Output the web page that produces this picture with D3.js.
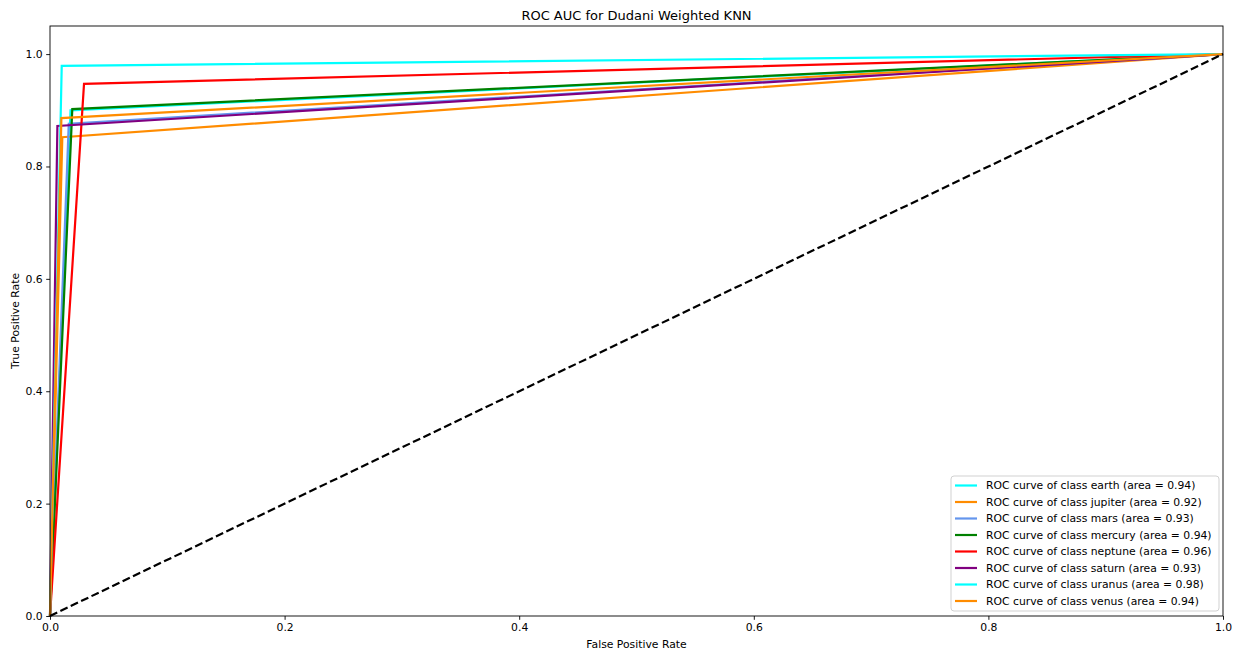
<!DOCTYPE html>
<html>
<head>
<meta charset="utf-8">
<script src="https://cdn.jsdelivr.net/npm/d3@7"></script>
<style>
  html, body { margin: 0; padding: 0; background: #fff; }
  svg { display: block; font-family: "DejaVu Sans", sans-serif; }
</style>
</head>
<body>
<svg id="chart" width="1239" height="653"></svg>
<script>
// ROC curves, one per class: (0,0) -> (fpr, tpr) operating point -> (1,1)
const classNames = ["earth", "jupiter", "mars", "mercury", "neptune", "saturn", "uranus", "venus"];
const fprPoint   = [0.0175, 0.0105, 0.016, 0.019, 0.029, 0.0063, 0.010, 0.0097];
const tprPoint   = [0.900, 0.852, 0.876, 0.902, 0.947, 0.872, 0.979, 0.886];
const aucValues  = [0.94, 0.92, 0.93, 0.94, 0.96, 0.93, 0.98, 0.94];
const lineColors = ["#00ffff", "#ff8c00", "#6495ed", "#008000", "#ff0000", "#800080", "#00ffff", "#ff8c00"];
const xTicks = [0.0, 0.2, 0.4, 0.6, 0.8, 1.0];
const yTicks = [0.0, 0.2, 0.4, 0.6, 0.8, 1.0];

const svg = d3.select("#chart");
const plotLeft = 50, plotRight = 1223, plotTop = 26, plotBottom = 616;

const x = d3.scaleLinear().domain([0, 1]).range([plotLeft, plotRight]);
const y = d3.scaleLinear().domain([0, 1.05]).range([plotBottom, plotTop]);

const fs = 10.8;

// curves
const line = d3.line().x(d => x(d[0])).y(d => y(d[1]));
const g = svg.append("g");
classNames.forEach((c, i) => {
  const pts = [[0, 0], [fprPoint[i], tprPoint[i]], [1, 1]];
  g.append("path")
    .attr("d", line(pts))
    .attr("fill", "none")
    .attr("stroke", lineColors[i])
    .attr("stroke-width", 2.2)
    .attr("stroke-linejoin", "miter");
});

// chance diagonal
g.append("path")
  .attr("d", line([[0, 0], [1, 1]]))
  .attr("fill", "none")
  .attr("stroke", "#000")
  .attr("stroke-width", 2.2)
  .attr("stroke-dasharray", "8,3.5");

// axes
const xAxis = d3.axisBottom(x).tickValues(xTicks).tickFormat(d3.format(".1f")).tickSize(3.8).tickPadding(3.5);
const yAxis = d3.axisLeft(y).tickValues(yTicks).tickFormat(d3.format(".1f")).tickSize(3.8).tickPadding(3.5);

const gx = svg.append("g").attr("transform", `translate(0,${plotBottom})`).call(xAxis);
const gy = svg.append("g").attr("transform", `translate(${plotLeft},0)`).call(yAxis);
[gx, gy].forEach(a => {
  a.select(".domain").remove();
  a.selectAll("text").attr("font-size", fs).attr("font-family", "DejaVu Sans").attr("fill", "#000");
  a.selectAll("line").attr("stroke", "#000").attr("stroke-width", 0.9);
});

// frame
svg.append("rect")
  .attr("x", plotLeft).attr("y", plotTop)
  .attr("width", plotRight - plotLeft).attr("height", plotBottom - plotTop)
  .attr("fill", "none").attr("stroke", "#000").attr("stroke-width", 0.9);

// title and axis labels
svg.append("text").attr("x", (plotLeft + plotRight) / 2).attr("y", 20)
  .attr("text-anchor", "middle").attr("font-size", 13).text("ROC AUC for Dudani Weighted KNN");
svg.append("text").attr("x", (plotLeft + plotRight) / 2).attr("y", 648)
  .attr("text-anchor", "middle").attr("font-size", fs).text("False Positive Rate");
svg.append("text").attr("transform", `translate(19,${(plotTop + plotBottom) / 2}) rotate(-90)`)
  .attr("text-anchor", "middle").attr("font-size", fs).text("True Positive Rate");

// legend
const lg = svg.append("g");
lg.append("rect")
  .attr("x", 951).attr("y", 476).attr("width", 268).attr("height", 135)
  .attr("rx", 3).attr("ry", 3)
  .attr("fill", "#fff").attr("fill-opacity", 0.8)
  .attr("stroke", "#cccccc").attr("stroke-width", 0.9);
classNames.forEach((c, i) => {
  const yy = 485.5 + i * 16.5;
  lg.append("line").attr("x1", 955).attr("x2", 977).attr("y1", yy).attr("y2", yy)
    .attr("stroke", lineColors[i]).attr("stroke-width", 2.2);
  lg.append("text").attr("x", 986).attr("y", yy).attr("dy", "0.36em")
    .attr("font-size", fs)
    .text(`ROC curve of class ${c} (area = ${aucValues[i].toFixed(2)})`);
});
</script>
</body>
</html>
